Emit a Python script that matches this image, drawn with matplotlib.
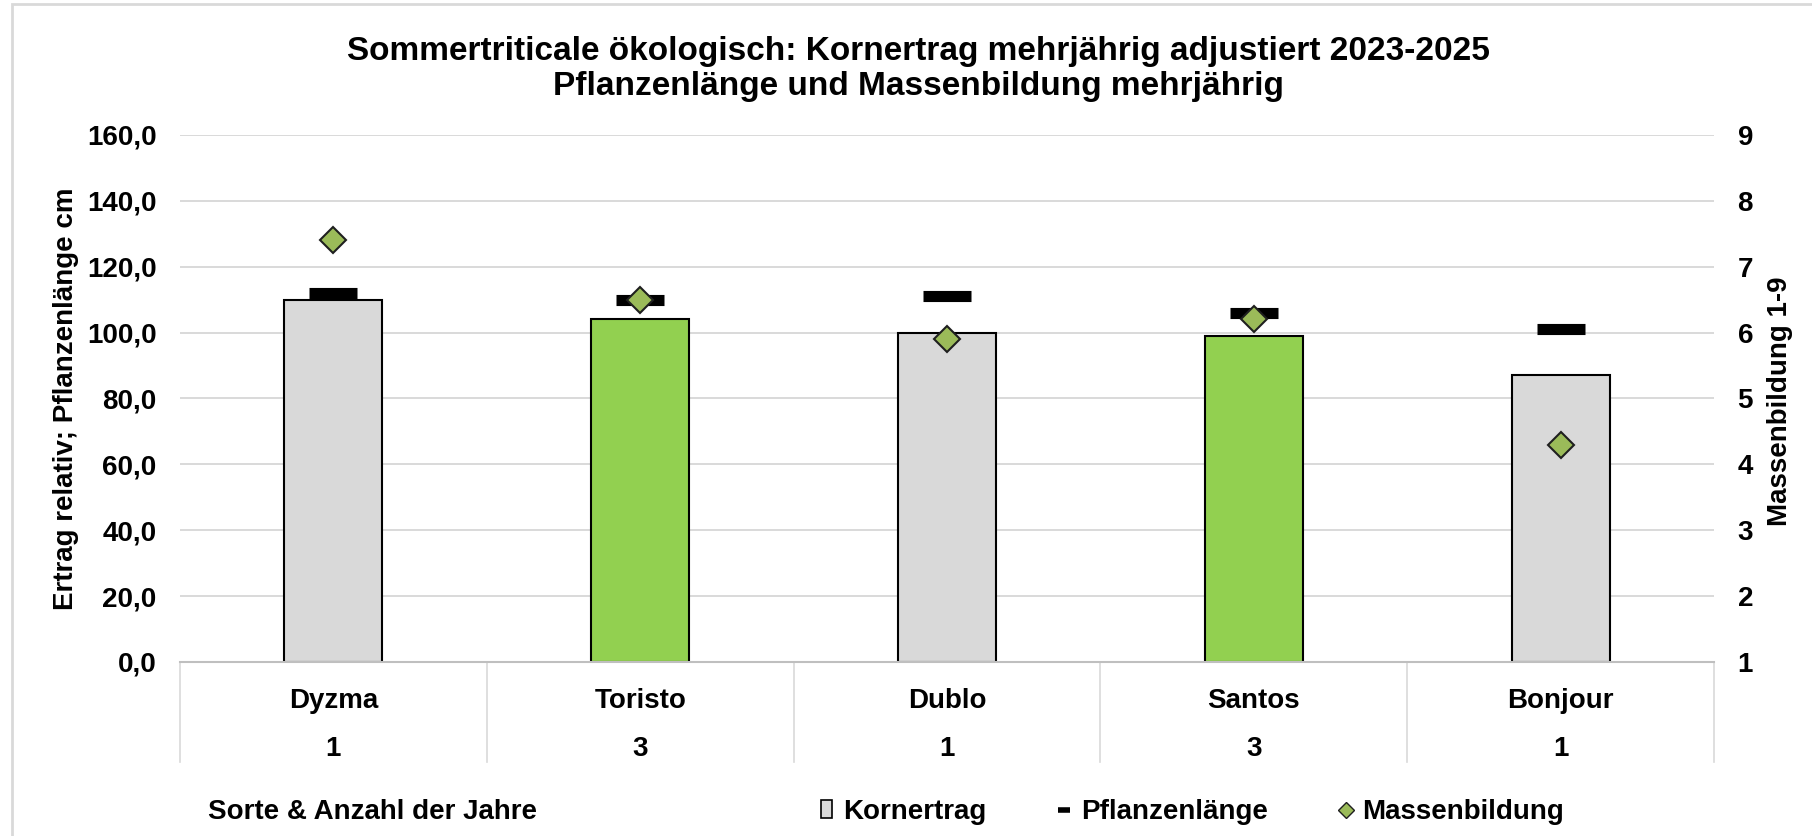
import matplotlib
matplotlib.use("Agg")
import matplotlib.pyplot as plt
from matplotlib.lines import Line2D
from matplotlib.patches import Patch, Rectangle

plt.rcParams['font.family'] = ['Liberation Sans', 'DejaVu Sans']
plt.rcParams['font.weight'] = 'bold'

# Daten
sorten = ['Dyzma', 'Toristo', 'Dublo', 'Santos', 'Bonjour']
jahre = [1, 3, 1, 3, 1]
kornertrag = [110, 104, 100, 99, 87]          # relativ
pflanzenlaenge = [112, 110, 111, 106, 101]    # cm
massenbildung = [7.4, 6.5, 5.9, 6.2, 4.3]     # Note 1-9
bar_colors = ['#D9D9D9', '#92D050', '#D9D9D9', '#92D050', '#D9D9D9']

left_ticks = [0, 20, 40, 60, 80, 100, 120, 140, 160]
right_ticks = [1, 2, 3, 4, 5, 6, 7, 8, 9]

W, H = 1812, 836
fig = plt.figure(figsize=(W / 100, H / 100), dpi=100)

# Rahmen des Diagrammbereichs
fig.patches.append(Rectangle((12 / W, -0.1), 1.2, 1 - 4 / H + 0.1, transform=fig.transFigure,
                             fill=False, edgecolor='#D9D9D9', linewidth=2))

ax = fig.add_axes([180 / W, (H - 662) / H, (1714 - 180) / W, (662 - 135) / H])
x = list(range(len(sorten)))

ax.bar(x, kornertrag, width=0.32, color=bar_colors, edgecolor='black', linewidth=1.5, zorder=2)
ax.plot(x, pflanzenlaenge, linestyle='none', marker='_', markersize=34, markeredgewidth=8,
        color='black', zorder=3)

ax.set_xlim(-0.5, len(sorten) - 0.5)
ax.set_ylim(0, 160)
ax.set_yticks(left_ticks)
ax.set_yticklabels([f"{v:.1f}".replace('.', ',') for v in left_ticks])
ax.set_xticks([])
ax.grid(axis='y', color='#D9D9D9', linewidth=1.4, zorder=0)
ax.set_axisbelow(True)
for s in ['top', 'left', 'right']:
    ax.spines[s].set_visible(False)
ax.spines['bottom'].set_color('#BFBFBF')
ax.spines['bottom'].set_linewidth(1.5)
ax.tick_params(axis='y', length=0, pad=17, labelsize=20)
ax.set_ylabel('Ertrag relativ; Pflanzenlänge cm', fontsize=20, fontweight='bold')
ax.yaxis.set_label_coords(-0.0658, 0.5)

ax2 = ax.twinx()
ax2.plot(x, massenbildung, linestyle='none', marker='D', markersize=13, markerfacecolor='#9BBB59',
         markeredgecolor='#1F1F1F', markeredgewidth=1.5, zorder=4)
ax2.set_ylim(1, 9)
ax2.set_yticks(right_ticks)
ax2.set_yticklabels([str(v) for v in right_ticks])
for s in ['top', 'left', 'right', 'bottom']:
    ax2.spines[s].set_visible(False)
ax2.tick_params(axis='y', length=0, pad=17, labelsize=20)
ax2.set_ylabel('Massenbildung 1-9', fontsize=20, fontweight='bold')
ax2.yaxis.set_label_coords(1.0345, 0.495)

# mehrstufige Kategorienachse
trans = ax.get_xaxis_transform()
for i in range(len(sorten) + 1):
    ax.plot([i - 0.5, i - 0.5], [0, -0.19], transform=trans, color='#D9D9D9',
            linewidth=1.2, clip_on=False)
for i, (name, n) in enumerate(zip(sorten, jahre)):
    ax.text(i, -0.074, name, transform=trans, ha='center', va='center', fontsize=20)
    ax.text(i, -0.166, str(n), transform=trans, ha='center', va='center', fontsize=20)

fig.text(0.5066, 1 - 60 / H, 'Sommertriticale ökologisch: Kornertrag mehrjährig adjustiert 2023-2025',
         ha='center', va='baseline', fontsize=24, fontweight='bold')
fig.text(0.5066, 1 - 95 / H, 'Pflanzenlänge und Massenbildung mehrjährig',
         ha='center', va='baseline', fontsize=24, fontweight='bold')

fig.text(208 / W, 1 - 812 / H, 'Sorte & Anzahl der Jahre', ha='left', va='center', fontsize=20)

handles = [
    Patch(facecolor='#D9D9D9', edgecolor='black', linewidth=1.2),
    Line2D([], [], linestyle='none', marker='_', markersize=8, markeredgewidth=4, color='black'),
    Line2D([], [], linestyle='none', marker='D', markersize=8, markerfacecolor='#9BBB59',
           markeredgecolor='#1F1F1F', markeredgewidth=1),
]
fig.legend(handles, ['Kornertrag', 'Pflanzenlänge', 'Massenbildung'], loc='center',
           bbox_to_anchor=((821 + 1564) / 2 / W, 1 - 812 / H), ncol=3, frameon=False,
           fontsize=20, handlelength=0.4, handleheight=0.6, handletextpad=0.4,
           columnspacing=2.6, borderpad=0, borderaxespad=0)

fig.savefig('out.png', dpi=100)
